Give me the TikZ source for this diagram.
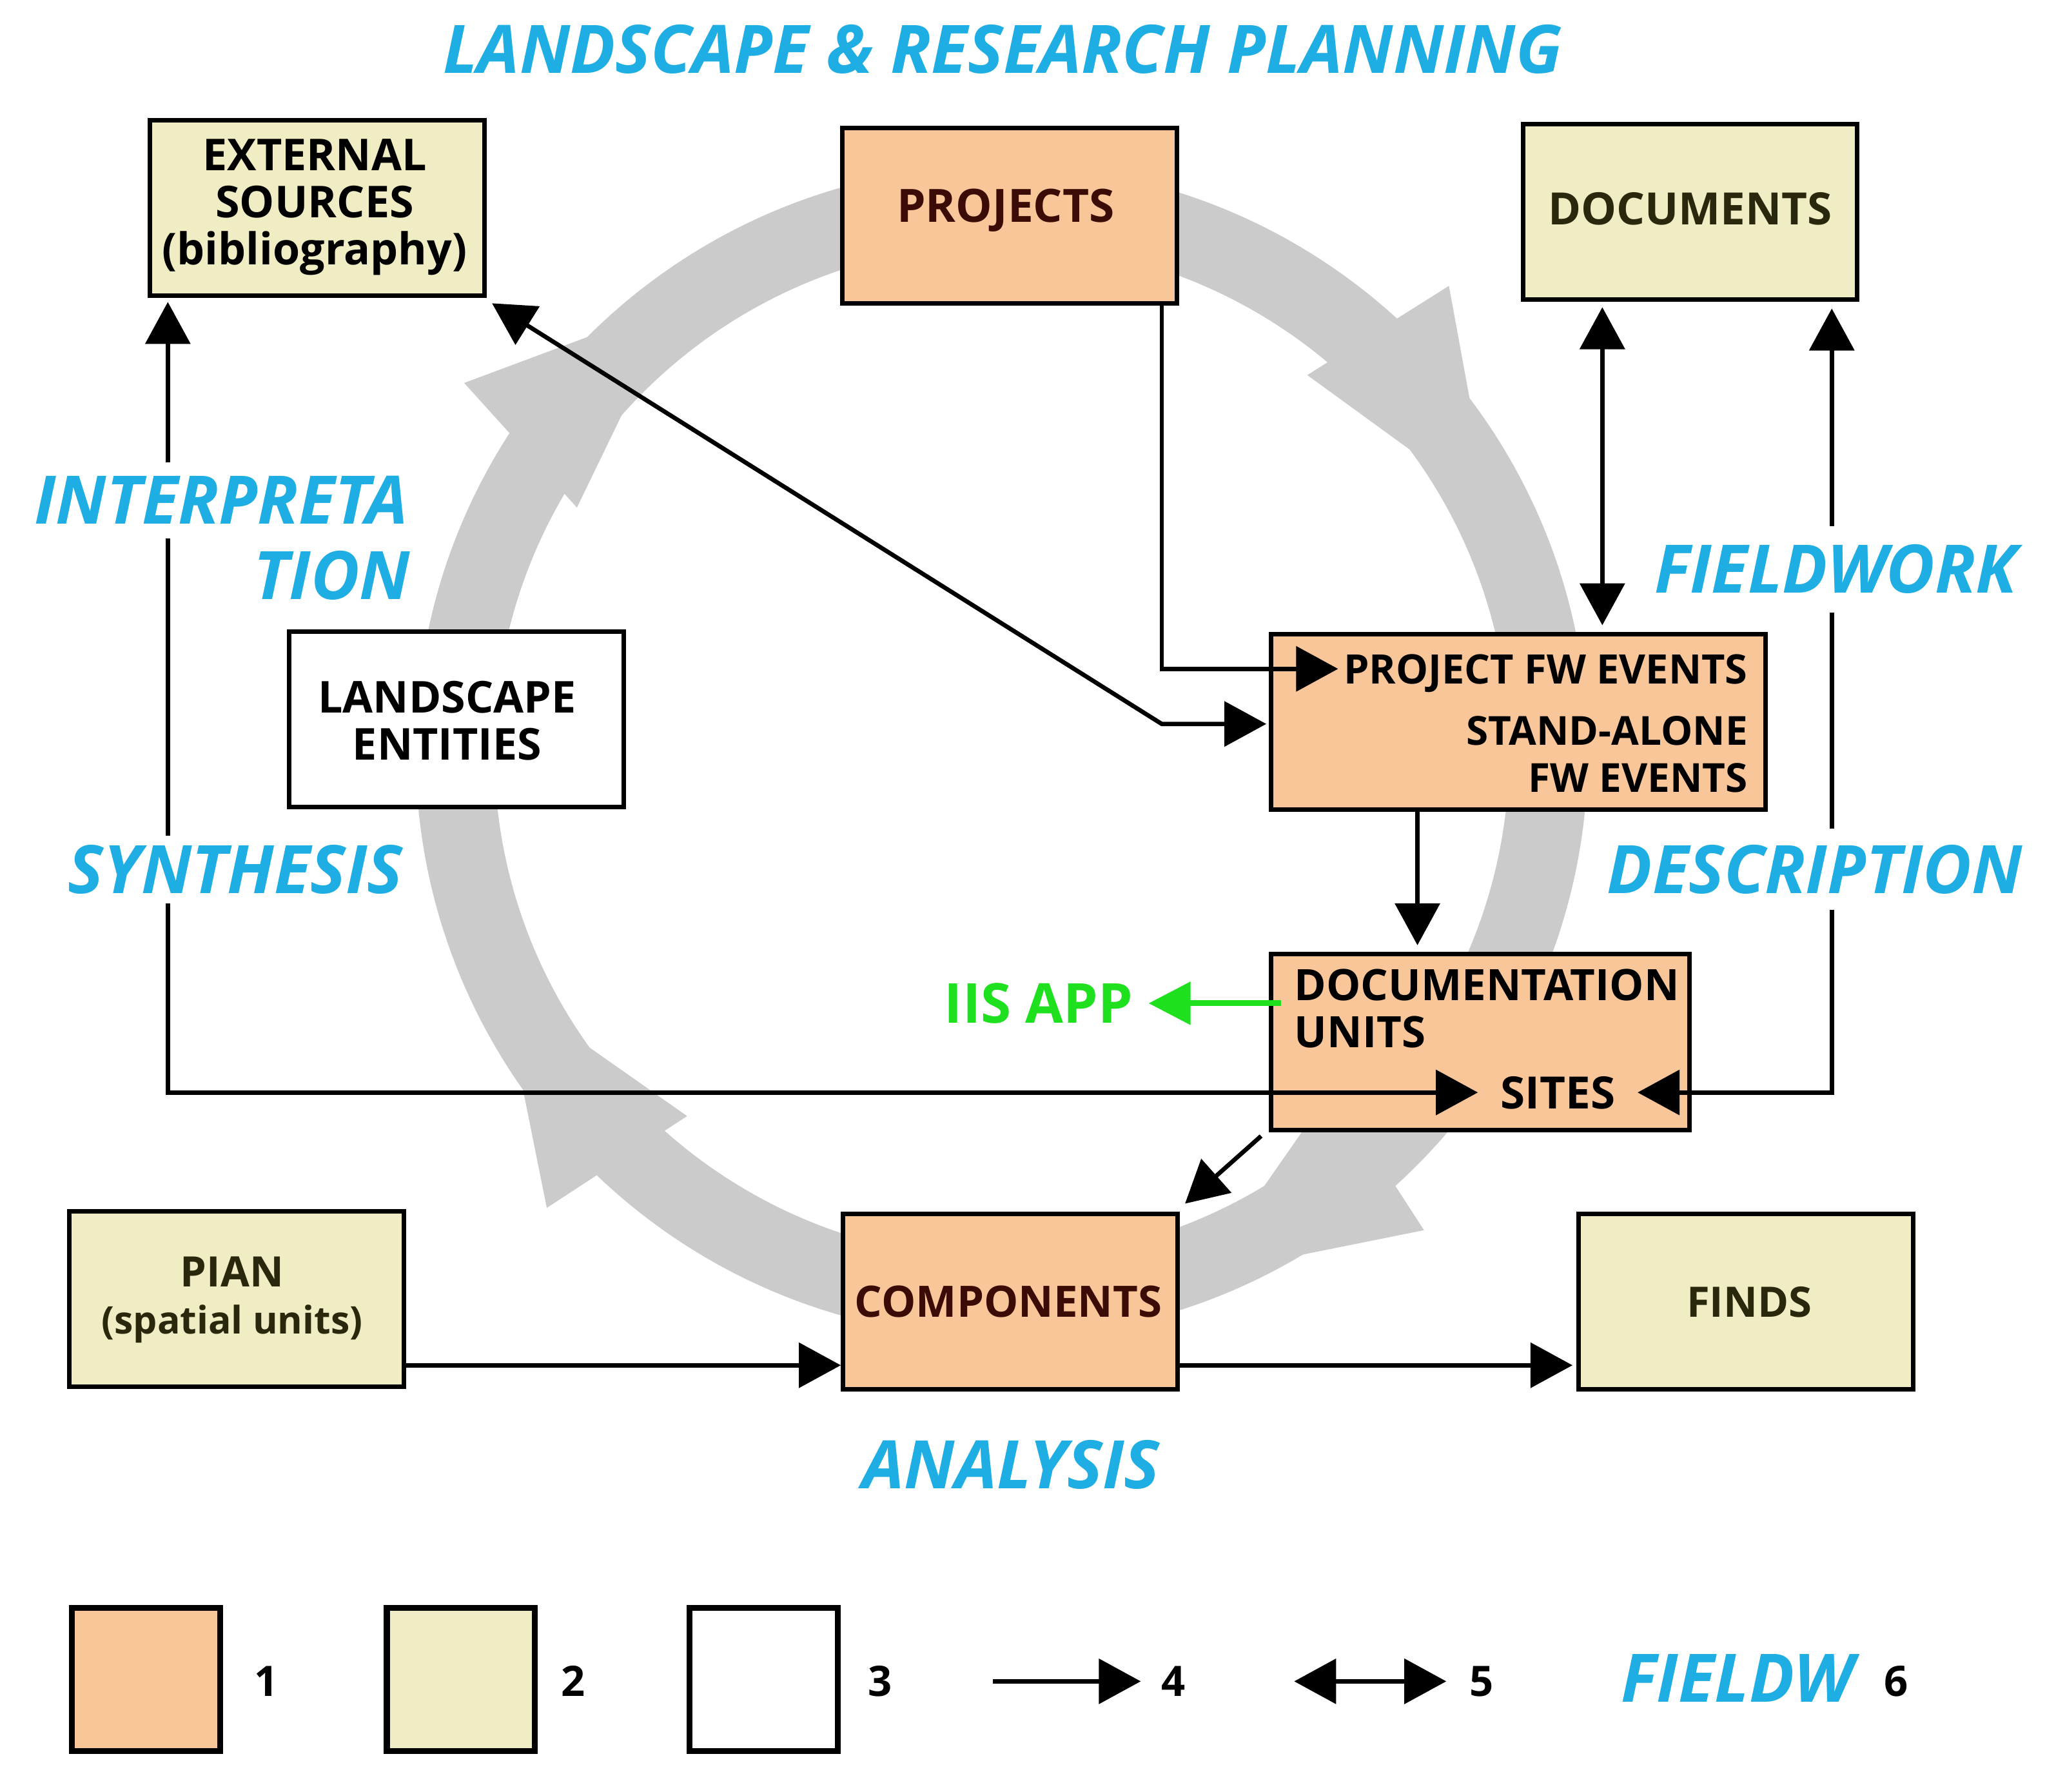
\documentclass[tikz,border=0pt]{standalone}
\usepackage{fontspec}
\setsansfont{Open Sans}
\usetikzlibrary{arrows.meta}
\definecolor{orangefill}{HTML}{F9C699}
\definecolor{yellowfill}{HTML}{F0EDC4}
\definecolor{ringgrey}{HTML}{CBCBCB}
\definecolor{labelblue}{HTML}{1FAEE3}
\definecolor{iisgreen}{HTML}{1EE01E}
\definecolor{darkbrown}{HTML}{3A0C05}
\definecolor{darkolive}{HTML}{2A280C}
\newcommand\boxfont{\sffamily\bfseries\fontsize{32}{36}\selectfont}
\newcommand\fs[1]{\fontsize{#1}{36}\selectfont}
\newcommand\phasefont{\sffamily\bfseries\itshape\fontsize{51}{54}\selectfont}
\begin{document}
\begin{tikzpicture}[x=1pt,y=-1pt,
  box/.style={draw=black, line width=3.5pt, minimum height=134pt, inner sep=0pt},
  stdbox/.style={box, minimum width=255pt},
  orangebox/.style={fill=orangefill},
  yellowbox/.style={fill=yellowfill},
  whitebox/.style={fill=white},
  legbox/.style={draw=black, line width=4.5pt, minimum width=113pt, minimum height=109pt, inner sep=0pt},
  txt/.style={font=\boxfont, inner sep=0pt, align=center},
  captext/.style={text height=23pt, text depth=0pt},
  phase/.style={font=\phasefont, text=labelblue, text height=36pt, text depth=0pt, inner xsep=0pt, inner ysep=0pt},
  gap/.style={fill=white, inner ysep=#1},
  conn/.style={line width=3.3pt, draw=black, -{Triangle[length=32pt,width=34pt]}},
  dconn/.style={line width=3.3pt, draw=black, {Triangle[length=32pt,width=34pt]}-{Triangle[length=32pt,width=34pt]}},
  garrow/.style={line width=4.5pt, draw=iisgreen, -{Triangle[length=32pt,width=32pt]}},
]
\useasboundingbox[fill=white] (0,0) rectangle (1568,1366);

% grey cycle ring with arrowheads
\draw[ringgrey, line width=60pt] (764,573) circle [radius=417pt];
\fill[ringgrey] (354,292) -- (515,232) -- (440,387) -- cycle;
\fill[ringgrey] (997,286) -- (1105,218) -- (1136,387) -- cycle;
\fill[ringgrey] (1086,938) -- (1016,830) -- (917,972) -- cycle;
\fill[ringgrey] (524,851) -- (417,921) -- (383,752) -- cycle;

% boxes
\node[stdbox, yellowbox] (ext) at (242,158.5) {};
\node[stdbox, orangebox] (projects) at (770,164.5) {};
\node[stdbox, yellowbox] (documents) at (1289,161.5) {};
\node[stdbox, whitebox] (landscape) at (348,548.5) {};
\node[box, orangebox, minimum width=377pt] (fwevents) at (1158,550.5) {};
\node[box, orangebox, minimum width=319pt] (docunits) at (1129,794.5) {};
\node[stdbox, yellowbox] (pian) at (180.5,990.5) {};
\node[stdbox, orangebox] (components) at (770.5,992.5) {};
\node[stdbox, yellowbox] (finds) at (1331.5,992.5) {};

% box texts
\node[txt, font=\boxfont\fs{33.5}] (ext-t) at (240,158) {EXTERNAL\\SOURCES\\(bibliography)};
\node[txt, captext, text=darkbrown, font=\boxfont\fs{35}] (projects-t) at (767,158) {PROJECTS};
\node[txt, captext, text=darkolive, font=\boxfont\fs{34}] (documents-t) at (1289,160) {DOCUMENTS};
\node[txt, font=\boxfont\fs{33.5}] (landscape-t) at (341,549.5) {LANDSCAPE\\ENTITIES};
\node[txt, captext, anchor=east, font=\boxfont\fs{31}] (pfw) at (1333,510) {PROJECT FW EVENTS};
\node[txt, align=right, anchor=east, font=\boxfont\fs{30.5}] (standalone) at (1333,575) {STAND-ALONE\\FW EVENTS};
\node[txt, align=left, anchor=west, font=\boxfont\fs{33}] (docunits-t) at (987,769) {DOCUMENTATION\\UNITS};
\node[txt, captext, font=\boxfont\fs{34}] (sites) at (1188,834) {SITES};
\node[txt, text=darkolive] (pian-t) at (177,991) {\fs{32}PIAN\\\fs{29}(spatial units)};
\node[txt, captext, text=darkbrown, font=\boxfont\fs{33}] (components-t) at (769,993) {COMPONENTS};
\node[txt, captext, text=darkolive] (finds-t) at (1334,993) {FINDS};

% connectors
\coordinate (xpj) at (886,0);
\draw[conn] (projects.south -| xpj) |- ([xshift=-4pt]pfw.west);
\coordinate (bend) at (886,552);
\draw[dconn, shorten >=2pt] ([shift={(4,4)}]ext.south east) -- (bend) -- (bend -| fwevents.west);
\coordinate (xfd) at (1081,0);
\draw[conn, shorten >=5pt] (fwevents.south -| xfd) -- (docunits.north -| xfd);
\coordinate (xdd) at (1222,0);
\draw[dconn, shorten <=4pt, shorten >=5pt] (documents.south -| xdd) -- (fwevents.north -| xdd);
\coordinate (cl) at (128,833);
\draw[dconn, shorten <=3pt] (ext.south -| cl) -- (cl) -- ([xshift=-17pt]sites.west |- cl);
\coordinate (cr) at (1397,833);
\draw[dconn, shorten <=5pt] (documents.south -| cr) -- (cr) -- ([xshift=17pt]sites.east |- cr);
\draw[conn] ([shift={(-6,3)}]docunits.south west) -- ([shift={(4,-6)}]components.north east);
\node[font=\sffamily\bfseries\fontsize{42}{46}\selectfont, text=iisgreen, text height=30pt, text depth=0pt, inner sep=0pt] (iis) at (792,765) {IIS APP};
\draw[garrow] ([xshift=9pt]docunits.west |- iis) -- ([xshift=12pt]iis.east);
\coordinate (yb) at (0,1041);
\draw[conn] (pian.east |- yb) -- (components.west |- yb);
\draw[conn] (components.east |- yb) -- ([xshift=-3pt]finds.west |- yb);

% phase labels
\node[phase] (title) at (764.5,38) {LANDSCAPE \& RESEARCH PLANNING};
\node[phase, gap=11pt, anchor=east] (interp1) at (311,381.5) {INTERPRETA};
\node[phase, anchor=east] (interp2) at (313,439) {TION};
\node[phase, gap=8pt] (synth) at (179.5,663) {SYNTHESIS};
\node[phase, gap=15pt] (fieldwork) at (1400,434) {FIELDWORK};
\node[phase, gap=13pt] (descr) at (1384,663) {DESCRIPTION};
\node[phase] (analysis) at (771,1117) {ANALYSIS};

% legend
\node[legbox, orangebox] (leg1) at (111.5,1280.5) {};
\node[legbox, yellowbox] (leg2) at (351.5,1280.5) {};
\node[legbox, whitebox] (leg3) at (582.5,1280.5) {};
\node[txt, captext] (n1) at (203,1282) {1};
\node[txt, captext] (n2) at (437,1282) {2};
\node[txt, captext] (n3) at (671,1282) {3};
\coordinate (a4s) at (757,1282);
\coordinate (a4e) at (870,1282);
\draw[conn] (a4s) -- (a4e);
\node[txt, captext] (n4) at (895,1282) {4};
\coordinate (a5s) at (987,1282);
\coordinate (a5e) at (1103,1282);
\draw[dconn] (a5s) -- (a5e);
\node[txt, captext] (n5) at (1130,1282) {5};
\node[phase] (leg6) at (1325,1280) {FIELDW};
\node[txt, captext] (n6) at (1446,1282) {6};
\end{tikzpicture}
\end{document}
